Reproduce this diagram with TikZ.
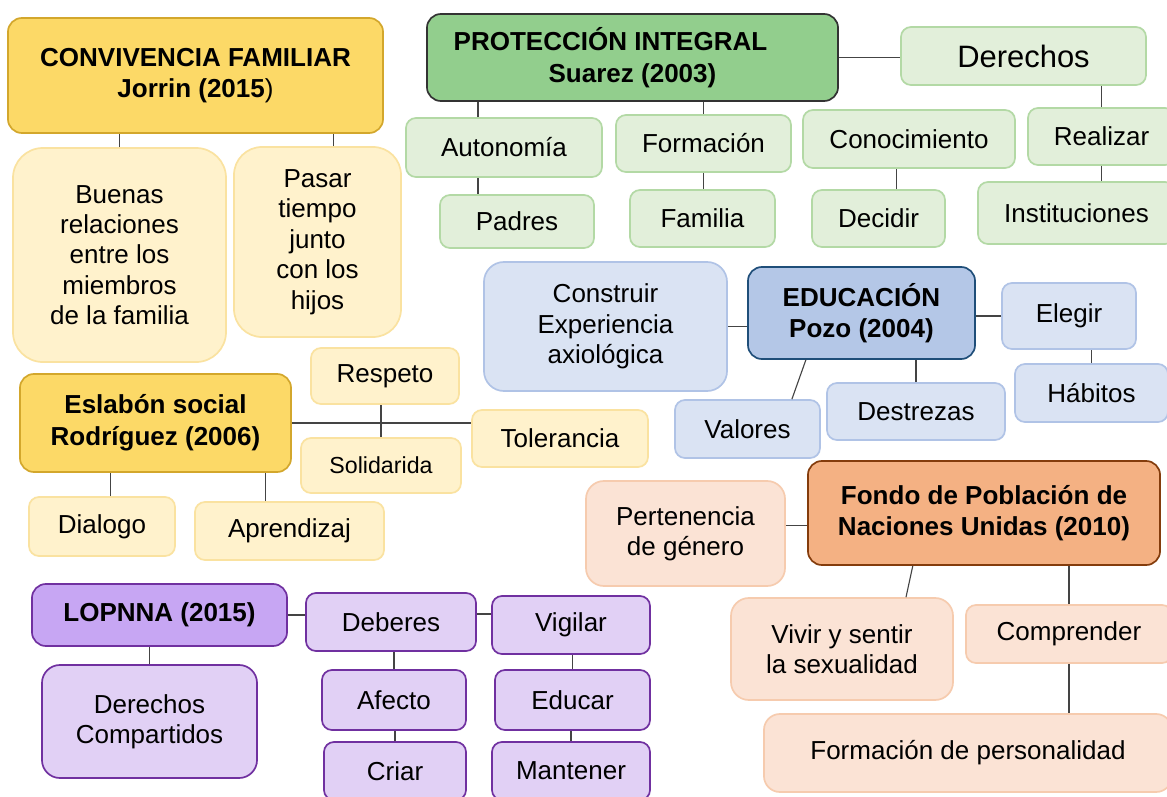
\documentclass[tikz,border=0pt]{standalone}
\usepackage{fontspec}
\setmainfont{Liberation Sans}
\usepackage{tikz}

\definecolor{yelmain}{HTML}{FCD967}
\definecolor{yeledge}{HTML}{D3A72C}
\definecolor{yellite}{HTML}{FFF2CC}
\definecolor{yelline}{HTML}{FAE2A0}
\definecolor{grnmain}{HTML}{92CE8D}
\definecolor{grnedge}{HTML}{333333}
\definecolor{grnlite}{HTML}{E2EFDA}
\definecolor{grnline}{HTML}{B3D9A5}
\definecolor{blumain}{HTML}{B4C7E7}
\definecolor{bluedge}{HTML}{1F4E79}
\definecolor{blulite}{HTML}{DAE3F3}
\definecolor{bluline}{HTML}{B0C3E6}
\definecolor{purmain}{HTML}{C7A6F3}
\definecolor{puredge}{HTML}{7030A0}
\definecolor{purlite}{HTML}{E1D0F5}
\definecolor{ormain}{HTML}{F4B183}
\definecolor{oredge}{HTML}{843C0C}
\definecolor{orlite}{HTML}{FBE3D5}
\definecolor{orline}{HTML}{F6CBAE}
\definecolor{linkgray}{HTML}{444444}

\begin{document}
\begin{tikzpicture}[x=0.025cm, y=-0.025cm, font=\fontsize{18.5}{21.6}\selectfont]
  \tikzstyle{box}=[rectangle, draw, rounded corners=0.25cm, align=center, line width=1.2pt, inner sep=2pt]
  \tikzstyle{head}=[box, rounded corners=0.35cm, font=\fontsize{18.5}{22.5}\selectfont\bfseries]
  \tikzstyle{yelhead}=[head, fill=yelmain, draw=yeledge]
  \tikzstyle{yelbox}=[box, fill=yellite, draw=yelline]
  \tikzstyle{grnhead}=[head, fill=grnmain, draw=grnedge]
  \tikzstyle{grnbox}=[box, fill=grnlite, draw=grnline]
  \tikzstyle{bluhead}=[head, fill=blumain, draw=bluedge]
  \tikzstyle{blubox}=[box, fill=blulite, draw=bluline]
  \tikzstyle{purhead}=[head, fill=purmain, draw=puredge]
  \tikzstyle{purbox}=[box, fill=purlite, draw=puredge]
  \tikzstyle{orhead}=[head, fill=ormain, draw=oredge]
  \tikzstyle{orbox}=[box, fill=orlite, draw=orline]
  \tikzstyle{link}=[draw=linkgray, line width=0.8pt]

  \fill[white] (0,0) rectangle (1167,797);
  \useasboundingbox (0,0) rectangle (1167,797);

  \node[yelhead, minimum width=9.375cm, minimum height=2.875cm] (cf) at (195.5,75.5) {CONVIVENCIA FAMILIAR\\Jorrin (2015{\mdseries )}};
  \node[yelbox, rounded corners=0.75cm, minimum width=5.325cm, minimum height=5.35cm] (buenas) at (119.5,255) {Buenas\\relaciones\\entre los\\miembros\\de la familia};
  \node[yelbox, rounded corners=0.7cm, minimum width=4.175cm, minimum height=4.75cm] (pasar) at (317.5,242) {Pasar\\tiempo\\junto\\con los\\hijos};

  \node[grnhead, minimum width=10.275cm, minimum height=2.175cm] (pi) at (632.5,57.5) {PROTECCIÓN INTEGRAL\hspace*{1.1cm}\\Suarez (2003)};
  \node[grnbox, minimum width=6.125cm, minimum height=1.45cm, font=\fontsize{22}{26}\selectfont] (der) at (1023.5,56) {Derechos};
  \node[grnbox, minimum width=4.9cm, minimum height=1.475cm] (auto) at (504,147.5) {Autonomía};
  \node[grnbox, minimum width=3.85cm, minimum height=1.325cm] (padres) at (517,221.5) {Padres};
  \node[grnbox, minimum width=4.375cm, minimum height=1.425cm] (form) at (703.5,143.5) {Formación};
  \node[grnbox, minimum width=3.625cm, minimum height=1.425cm] (fam) at (702.5,218.5) {Familia};
  \node[grnbox, minimum width=5.3cm, minimum height=1.45cm] (cono) at (909,139) {Conocimiento};
  \node[grnbox, minimum width=3.325cm, minimum height=1.425cm] (dec) at (878.5,218.5) {Decidir};
  \node[grnbox, minimum width=3.675cm, minimum height=1.425cm] (real) at (1101.5,136.5) {Realizar};
  \node[grnbox, minimum width=4.925cm, minimum height=1.55cm] (inst) at (1076.5,213) {Instituciones};

  \node[bluhead, minimum width=5.675cm, minimum height=2.3cm] (edu) at (861.5,313) {EDUCACIÓN\\Pozo (2004)};
  \node[blubox, rounded corners=0.5cm, minimum width=6.075cm, minimum height=3.225cm] (cons) at (605.5,326.5) {Construir\\Experiencia\\axiológica};
  \node[blubox, minimum width=3.35cm, minimum height=1.65cm] (eleg) at (1069,316) {Elegir};
  \node[blubox, minimum width=3.825cm, minimum height=1.45cm] (hab) at (1091.5,393) {Hábitos};
  \node[blubox, minimum width=3.625cm, minimum height=1.45cm] (val) at (747.5,429) {Valores};
  \node[blubox, minimum width=4.45cm, minimum height=1.425cm] (des) at (916,411.5) {Destrezas};

  \node[yelhead, minimum width=6.775cm, minimum height=2.45cm] (esl) at (155.5,423) {Eslabón social\\Rodríguez (2006)};
  \node[yelbox, minimum width=3.7cm, minimum height=1.4cm] (resp) at (385,376) {Respeto};
  \node[yelbox, minimum width=4cm, minimum height=1.375cm, font=\fontsize{16.5}{20}\selectfont] (sol) at (381,465.5) {Solidarida};
  \node[yelbox, minimum width=4.4cm, minimum height=1.425cm] (tol) at (560,438.5) {Tolerancia};
  \node[yelbox, minimum width=3.65cm, minimum height=1.475cm] (dial) at (102,526.5) {Dialogo};
  \node[yelbox, minimum width=4.725cm, minimum height=1.45cm] (apr) at (289.5,531) {Aprendizaj};

  \node[purhead, minimum width=6.375cm, minimum height=1.55cm] (lop) at (159.5,615) {LOPNNA (2015)};
  \node[purbox, rounded corners=0.45cm, minimum width=5.375cm, minimum height=2.825cm] (dc) at (149.5,721.5) {Derechos\\Compartidos};
  \node[purbox, minimum width=4.25cm, minimum height=1.45cm] (deb) at (391,622) {Deberes};
  \node[purbox, minimum width=3.95cm, minimum height=1.45cm] (vig) at (571,625) {Vigilar};
  \node[purbox, minimum width=3.6cm, minimum height=1.5cm] (afe) at (394,700) {Afecto};
  \node[purbox, minimum width=3.55cm, minimum height=1.45cm] (cri) at (395,771) {Criar};
  \node[purbox, minimum width=3.875cm, minimum height=1.5cm] (edc) at (572.5,700) {Educar};
  \node[purbox, minimum width=3.95cm, minimum height=1.45cm] (man) at (571,771) {Mantener};

  \node[orhead, minimum width=8.8cm, minimum height=2.6cm] (fondo) at (984,513) {Fondo de Población de\\Naciones Unidas (2010)};
  \node[orbox, rounded corners=0.45cm, minimum width=4.975cm, minimum height=2.625cm] (pert) at (685.5,533.5) {Pertenencia\\de género};
  \node[orbox, rounded corners=0.45cm, minimum width=5.55cm, minimum height=2.55cm] (viv) at (842,649) {Vivir y sentir\\la sexualidad};
  \node[orbox, minimum width=5.15cm, minimum height=1.45cm] (comp) at (1069,634) {Comprender};
  \node[orbox, rounded corners=0.4cm, minimum width=10.2cm, minimum height=1.95cm] (fp) at (968,753) {Formación de personalidad};

  \draw[link] (buenas.north) -- (buenas.north |- cf.south);
  \draw[link] ([xshift=0.41cm]pasar.north) -- ([xshift=0.41cm]pasar.north |- cf.south);
  \draw[link] (pi.east) -- (pi.east -| der.west);
  \draw[link] ([xshift=-0.65cm]auto.north) -- ([xshift=-0.65cm]auto.north |- pi.south);
  \draw[link] ([xshift=-0.65cm]auto.south) -- ([xshift=-0.65cm]auto.south |- padres.north);
  \draw[link] (form.north) -- (form.north |- pi.south);
  \draw[link] (form.south) -- (form.south |- fam.north);
  \draw[link] ([xshift=0.44cm]dec.north) -- ([xshift=0.44cm]dec.north |- cono.south);
  \draw[link] (real.north) -- (real.north |- der.south);
  \draw[link] (real.south) -- (real.south |- inst.north);
  \draw[link] (cons.east) -- (cons.east -| edu.west);
  \draw[link] (eleg.west) -- (eleg.west -| edu.east);
  \draw[link] (hab.north) -- (hab.north |- eleg.south);
  \draw[link] ([xshift=-1.39cm]edu.south) -- ([xshift=1.11cm]val.north);
  \draw[link] (des.north) -- (des.north |- edu.south);
  \draw[link] (esl.east) -- (esl.east -| tol.west);
  \draw[link] (sol.north) -- (sol.north |- resp.south);
  \draw[link] ([xshift=0.22cm]dial.north) -- ([xshift=0.22cm]dial.north |- esl.south);
  \draw[link] ([xshift=-0.61cm]apr.north) -- ([xshift=-0.61cm]apr.north |- esl.south);
  \draw[link] (dc.north) -- (dc.north |- lop.south);
  \draw[link] (lop.east) -- (lop.east -| deb.west);
  \draw[link] ([yshift=0.2cm]deb.east) -- ([yshift=0.2cm]deb.east -| vig.west);
  \draw[link] (afe.north) -- (afe.north |- deb.south);
  \draw[link] (cri.north) -- (cri.north |- afe.south);
  \draw[link] (edc.north) -- (edc.north |- vig.south);
  \draw[link] (man.north) -- (man.north |- edc.south);
  \draw[link] ([yshift=0.2cm]pert.east) -- ([yshift=0.2cm]pert.east -| fondo.west);
  \draw[link] ([xshift=-1.78cm]fondo.south) -- ([xshift=1.6cm]viv.north);
  \draw[link] (comp.north) -- (comp.north |- fondo.south);
  \draw[link] (comp.south) -- (comp.south |- fp.north);
\end{tikzpicture}
\end{document}
